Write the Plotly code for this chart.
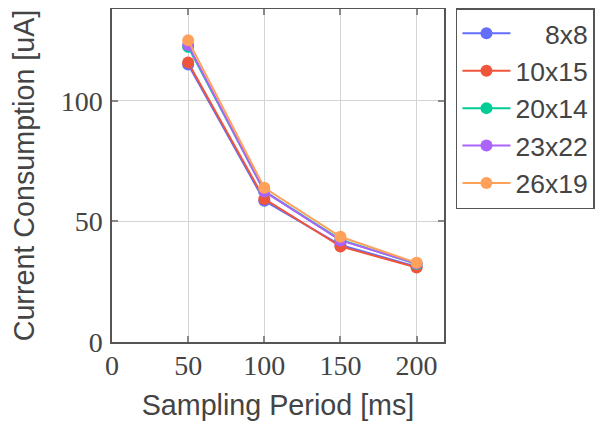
import plotly.graph_objects as go

periods = [50, 100, 150, 200]
names = ["8x8", "10x15", "20x14", "23x22", "26x19"]
labels = ["\u2007\u20078x8", "10x15", "20x14", "23x22", "26x19"]
s_8x8 = [115.0, 58.5, 40.2, 31.2]
s_10x15 = [115.8, 59.3, 39.6, 30.9]
s_20x14 = [122.3, 62.5, 42.4, 32.3]
s_23x22 = [123.1, 62.4, 42.1, 32.5]
s_26x19 = [125.0, 63.9, 43.6, 32.8]
series = [s_8x8, s_10x15, s_20x14, s_23x22, s_26x19]
colors = ["#636efa", "#EF553B", "#00cc96", "#ab63fa", "#FFA15A"]

fig = go.Figure()
for lab, vals, c in zip(labels, series, colors):
    fig.add_trace(go.Scatter(
        x=periods, y=vals, name=lab, mode="lines+markers",
        line=dict(color=c, width=2),
        marker=dict(color=c, size=12),
    ))

axis_common = dict(
    showgrid=True, gridcolor="#d4d4d4", gridwidth=1,
    showline=True, linecolor="#555555", linewidth=1.5, mirror="ticks",
    ticks="inside", ticklen=6, tickcolor="#888888", tickwidth=1.5,
    zeroline=False, automargin=False,
    tickfont=dict(family="Liberation Serif", size=28, color="#444444"),
    title_font=dict(family="Liberation Sans", size=28.7, color="#444444"),
)

fig.update_xaxes(range=[0, 218], tickvals=[0, 50, 100, 150, 200],
                 title_text="Sampling Period [ms]", title_standoff=15,
                 ticklabelstandoff=-2, **axis_common)
fig.update_yaxes(range=[0, 138], tickvals=[0, 50, 100],
                 title_text="Current Consumption [uA]", title_standoff=18,
                 ticklabelstandoff=2, **axis_common)

fig.update_layout(
    width=606, height=425,
    margin=dict(l=104, r=170, t=1, b=91, autoexpand=False),
    paper_bgcolor="white", plot_bgcolor="white",
    font=dict(family="Liberation Sans", color="#444444"),
    legend=dict(
        x=1.036, y=1.003, xanchor="left", yanchor="top",
        bordercolor="#555555", borderwidth=1.5, bgcolor="white",
        font=dict(family="Liberation Sans", size=26.5, color="#444444"),
        tracegroupgap=0, itemwidth=48,
    ),
    showlegend=True,
)

fig.write_html("out.html")
